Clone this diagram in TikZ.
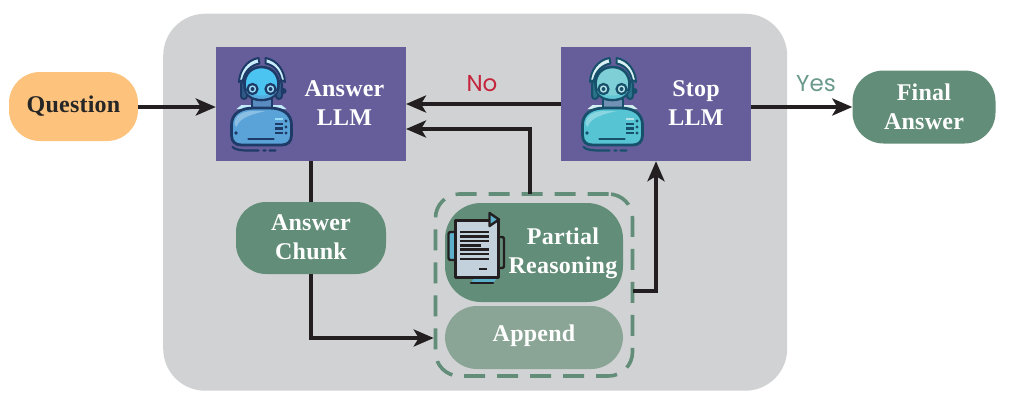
\documentclass[tikz,border=0pt]{standalone}
\usepackage{fontspec}
\setmainfont{Liberation Serif}[LetterSpace=1]
\newfontfamily\lblfont{Poppins}
\usetikzlibrary{arrows.meta}
\definecolor{panel}{HTML}{D1D2D4}
\definecolor{llm}{HTML}{655E9A}
\definecolor{sage}{HTML}{628D78}
\definecolor{sagelt}{HTML}{8AA595}
\definecolor{peach}{HTML}{FDC27C}
\definecolor{conn}{HTML}{231F20}
\definecolor{noc}{HTML}{C4243C}
\definecolor{yesc}{HTML}{6A9A8C}
\definecolor{docblue}{HTML}{C3D1DC}
\definecolor{doccy}{HTML}{5DB0C9}
\definecolor{raOut}{HTML}{1E3A66}
\definecolor{raBody}{HTML}{5AA3D8}
\definecolor{raHead}{HTML}{4CC4F2}
\definecolor{rsOut}{HTML}{17506B}
\definecolor{rsBody}{HTML}{57C4D4}
\definecolor{rsHead}{HTML}{7FD0D6}
\tikzset{
  txt/.style={font=\bfseries\fontsize{24}{29}\selectfont,text=white,align=center,inner sep=0pt},
  llmbox/.style={fill=llm,draw=none,minimum width=190pt,minimum height=114pt,inner sep=0pt},
  pill/.style={fill=sage,draw=none,rounded corners=#1,inner sep=0pt},
  pill/.default=30pt,
  flow/.style={draw=conn,line width=3.6pt,-{Stealth[length=20pt,width=17pt,inset=5pt]}},
  edgelbl/.style={font=\lblfont\fontsize{23}{27}\selectfont,inner sep=0pt},
  pics/robot/.style n args={3}{code={
    \fill[#3!35!white] (-25,22) -- (-20,18) -- (20,18) -- (25,22) -- cycle;
    \fill[#3!45!llm,draw=#1,line width=2pt] (-10,12) rectangle (10,22);
    \draw[#1,line width=2.8pt,fill=#2] (-30,38) .. controls (-30,26) and (-20,21) .. (-8,21) -- (8,21) .. controls (20,21) and (30,26) .. (30,38) -- (30,48) .. controls (30,55) and (26,58) .. (20,58) -- (-20,58) .. controls (-26,58) and (-30,55) .. (-30,48) -- cycle;
    \fill[white,opacity=.3] (-27,37) .. controls (-27,28) and (-18,24) .. (-8,24) -- (4,24) .. controls (-8,27) and (-22,30) .. (-25,40) -- cycle;
    \draw[#1,line width=2.6pt,line cap=round] (-13,52) -- (12,52);
    \fill[#1] (-25.5,46) circle (1.9);
    \draw[#3!60!white,line width=2.4pt] (13.5,32) -- (21,32);
    \draw[#1,line width=2.4pt] (13.5,37) -- (21,37) (13.5,41.5) -- (21,41.5) (13.5,46) -- (21,46);
    \fill[#1] (24.5,34) circle (1.7) (24.5,40) circle (1.7) (24.5,46) circle (1.7);
    \draw[#1,line width=2.2pt,line cap=round] (-29,60) .. controls (-26,63) and (-20,63.5) .. (-12,63.5) -- (-3,63.5) (2,63.5) -- (4,63.5) (8,63.5) -- (14,63.5);
    \draw[#1,line width=2pt,fill=#1!70!#2,rounded corners=3pt] (-20.5,-6) rectangle (-14.5,12);
    \draw[#1,line width=2pt,fill=#1!70!#2,rounded corners=3pt] (14.5,-6) rectangle (20.5,12);
    \fill[#1] (22,4) circle (3);
    \draw[#1,line width=2.6pt,fill=#3] (0,-20) .. controls (11,-20) and (17,-12) .. (17,-3) .. controls (17,8) and (10,13) .. (0,13) .. controls (-10,13) and (-17,8) .. (-17,-3) .. controls (-17,-12) and (-11,-20) .. (0,-20) -- cycle;
    \fill[#2,opacity=.75] (-15.5,4) .. controls (-8,10) and (8,10) .. (15.5,4) .. controls (12,10.5) and (6,11.7) .. (0,11.7) .. controls (-6,11.7) and (-12,10.5) .. (-15.5,4) -- cycle;
    \foreach \s in {-1,1}{
      \draw[#1,line width=2.2pt,fill=#3!55!white] (\s*9,2) circle (5);
      \fill[#1] (\s*9,2) circle (2);
    }
    \draw[#1,line width=2pt,fill=#3!30!white,line join=round] (-3,-29) .. controls (-15,-27) and (-22,-16) .. (-22.5,-5) -- (-18.5,-7) .. controls (-17,-15) and (-11,-22) .. (-2,-23.5) -- cycle;
    \draw[#1,line width=2pt,fill=#3!30!white,line join=round] (4,-29) .. controls (16,-27) and (23,-16) .. (23.5,-5) -- (19.5,-7) .. controls (18,-15) and (13,-22) .. (4,-23.5) -- cycle;
  }},
}
\begin{document}
\begin{tikzpicture}[x=1pt,y=-1pt]
\useasboundingbox (0,0) rectangle (1009,400);
\fill[white] (0,0) rectangle (1009,400);
\node[fill=panel,rounded corners=42pt,minimum width=624pt,minimum height=377pt,inner sep=0pt,anchor=north west] (panelbox) at (163,13.5) {};
\node[fill=peach,rounded corners=31pt,minimum width=129pt,minimum height=69pt,inner sep=0pt] (question) at (73.5,106.5) {};
\node[txt,text=black!85] at (73.5,106) {Question};
\node[llmbox] (answer) at (311,104) {};
\node[llmbox] (stop) at (656,104) {};
\node[pill=31pt,minimum width=143pt,minimum height=73pt] (final) at (924,107) {};
\node[txt] at (924,106.5) {Final\\Answer};
\node[pill=30pt,minimum width=150pt,minimum height=72pt] (chunk) at (311,238) {};
\node[txt] at (311,237.5) {Answer\\Chunk};
\node[pill=36pt,minimum width=178pt,minimum height=99pt] (partial) at (534,252.5) {};
\node[pill=32pt,fill=sagelt,minimum width=178pt,minimum height=63pt] (append) at (534,337.5) {};
\node[txt] at (534,336) {Append};
\node[draw=sage,line width=3.6pt,dash pattern=on 21pt off 12pt,rounded corners=24pt,minimum width=197pt,minimum height=182pt,inner sep=0pt] (group) at (534,285) {};
\node[txt] at (344.5,103.5) {Answer\\LLM};
\node[txt] at (696,103.5) {Stop\\LLM};
\node[txt] at (563,253.5) {Partial\\Reasoning};
\pic at (261.5,87) {robot={raOut}{raBody}{raHead}};
\pic at (612.5,87) {robot={rsOut}{rsBody}{rsHead}};
\begin{scope}[line join=round]
\fill[doccy] (474,278) -- (498,277) -- (493,283) -- (471,283) -- cycle;
\draw[conn,line width=2.4pt,line cap=round] (471,283) -- (493,283);
\draw[conn,line width=2.4pt,fill=doccy,rounded corners=2pt] (455,232) -- (448.5,232) -- (448.5,260) -- (455,260);
\draw[conn,line width=2.4pt,rounded corners=2pt] (498,237) -- (504,237) -- (504,268) -- (498,268);
\draw[conn,line width=3pt,fill=docblue] (455,220.5) -- (498,220.5) -- (498,277) -- (455,277) -- cycle;
\draw[conn,line width=2.4pt,fill=doccy] (489.5,213) -- (499,219.5) -- (489.5,226) -- cycle;
\draw[conn,line width=2.4pt] (460,232) -- (488.5,232) (460,236.5) -- (488.5,236.5) (460,241) -- (488.5,241) (460,245.5) -- (481,245.5) (460,249.5) -- (488.5,249.5) (460,254) -- (488.5,254) (460,259) -- (488.5,259);
\draw[conn,line width=2.4pt] (479,269) -- (487,269);
\end{scope}
\coordinate (ansTop) at (406,104);
\coordinate (ansLow) at (406,129);
\coordinate (partialUp) at (530,129);
\coordinate (partialTop) at (530,194);
\coordinate (grpR) at (656,291);
\coordinate (grpOut) at (633,291);
\coordinate (qY) at (0,107);
\coordinate (fY) at (0,107);
\coordinate (chX) at (311,338);
\draw[flow] (question.east |- qY) -- (answer.west |- qY);
\draw[flow] (stop.west |- ansTop) -- (ansTop);
\draw[flow] (partialTop) -- (partialUp) -- (ansLow);
\draw[flow] (stop.east |- fY) -- (final.west |- fY);
\draw[conn,line width=3.6pt] (answer.south) -- (chunk.north);
\draw[flow] (chunk.south) -- (chX) -- (group.west |- chX);
\draw[flow] (grpOut) -- (grpR) -- (stop.south);
\node[edgelbl,text=noc] (nolbl) at (482,83.5) {No};
\node[edgelbl,text=yesc] (yeslbl) at (816,84) {Yes};
\end{tikzpicture}
\end{document}
